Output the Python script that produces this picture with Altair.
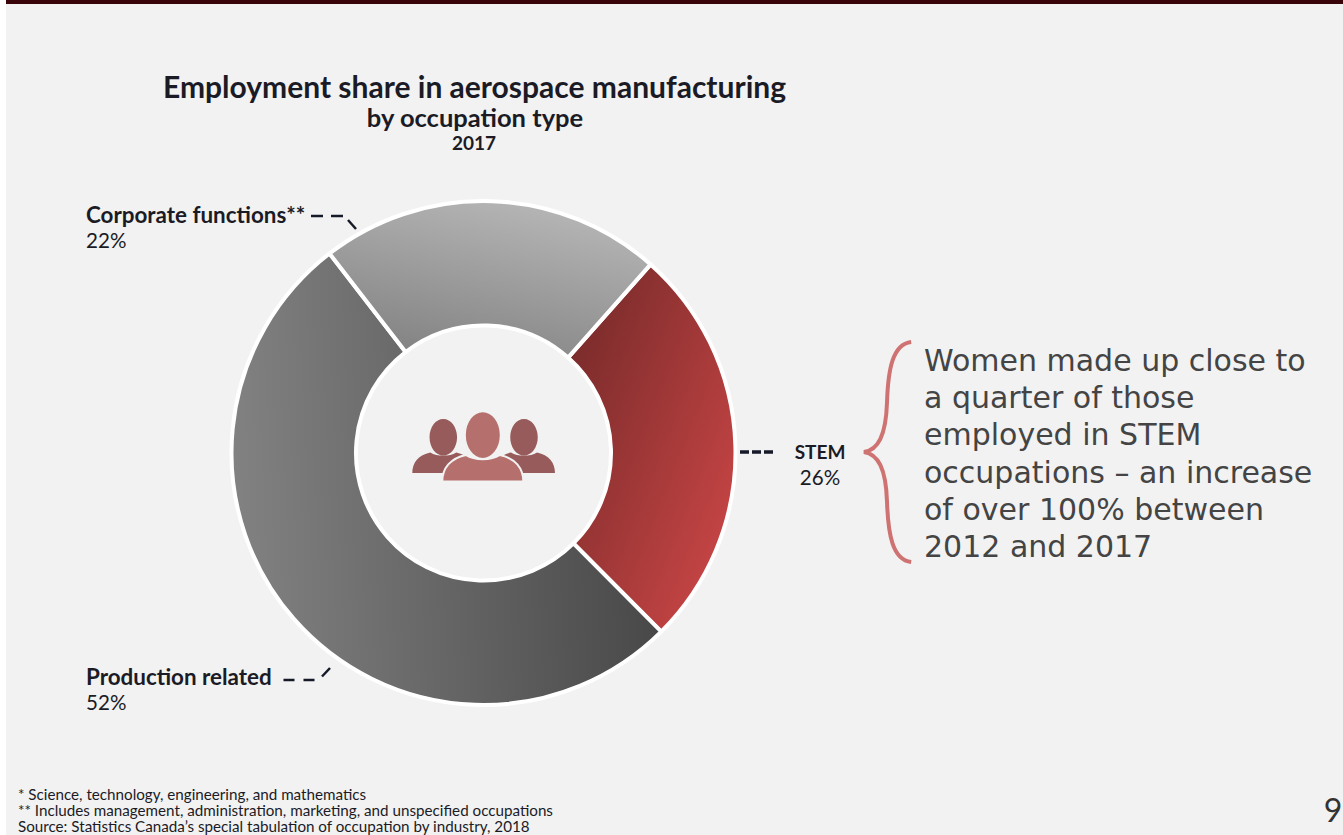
import altair as alt
import pandas as pd

# Occupation shares, 2017
categories = ["STEM", "Production related", "Corporate functions"]
shares = [26, 52, 22]
rank = [0, 1, 2]

title_lines = ["Employment share in aerospace manufacturing", "by occupation type", "2017"]
note_lines = [
    "Women made up close to",
    "a quarter of those",
    "employed in STEM",
    "occupations \u2013 an increase",
    "of over 100% between",
    "2012 and 2017",
]
footnotes = [
    "* Science, technology, engineering, and mathematics",
    "** Includes management, administration, marketing, and unspecified occupations",
    "Source: Statistics Canada\u2019s special tabulation of occupation by industry, 2018",
]

W, H = 1343, 835
FONT = "Lato"
INK = "#1b1b26"
CX, CY = 483.5, 453
START = 0.725
TAU = 6.28319

table = pd.DataFrame({"category": categories, "share": shares, "rank": rank})


def label(text, x, y, size, weight="normal", align="left", color=INK, font=FONT):
    return alt.Chart(table.head(1)).mark_text(
        text=text, font=font, fontSize=size, fontWeight=weight,
        align=align, baseline="middle", color=color,
    ).encode(x=alt.value(x), y=alt.value(y))


def block(x, x2, y, y2, color):
    return alt.Chart(table.head(1)).mark_rect(color=color).encode(
        x=alt.value(x), x2=alt.value(x2), y=alt.value(y), y2=alt.value(y2)
    )


def seg(x, x2, y, y2, width=2.5, color="#161a28", dash=None):
    kwargs = {"strokeDash": dash} if dash else {}
    return alt.Chart(table.head(1)).mark_rule(color=color, strokeWidth=width, **kwargs).encode(
        x=alt.value(x), x2=alt.value(x2), y=alt.value(y), y2=alt.value(y2)
    )


def gradient(c0, c1, x1, y1, x2, y2):
    return alt.LinearGradient(
        gradient="linear",
        stops=[alt.GradientStop(color=c0, offset=0), alt.GradientStop(color=c1, offset=1)],
        x1=x1, y1=y1, x2=x2, y2=y2,
    )


def wedge(category, fill):
    return (
        alt.Chart(table)
        .transform_stack(stack="share", as_=["t0", "t1"], groupby=[], sort=[alt.SortField("rank")])
        .transform_filter(alt.datum.category == category)
        .mark_arc(radius=252, radius2=127.5, fill=fill, stroke="white", strokeWidth=4)
        .encode(
            theta=alt.Theta("t0:Q", scale=alt.Scale(domain=[0, 100], range=[START, START + TAU])),
            theta2="t1:Q",
            x=alt.value(CX),
            y=alt.value(CY),
        )
    )


# Person glyph: head plus shoulders, in symbol units
PERSON = (
    "M-.444,-.27 A.444,.59 0 1 1 .444,-.27 A.444,.59 0 1 1 -.444,-.27 Z "
    "M-1,.877 C-1,.55 -.8,.3 -.42,.22 C-.2,.36 .2,.36 .42,.22 C.8,.3 1,.55 1,.877 Z"
)
BRACE = (
    "M.22,-1 C.05,-.98 .01,-.75 0,-.45 C-.01,-.15 -.08,-.02 -.21,0 "
    "C-.08,.02 -.01,.15 0,.45 C.01,.75 .05,.98 .22,1"
)


def person(x, y, size, color, halo=0):
    return alt.Chart(table.head(1)).mark_point(
        shape=PERSON, size=size, filled=True, fill=color, opacity=1,
        stroke="#f2f2f2", strokeWidth=halo,
    ).encode(x=alt.value(x), y=alt.value(y))


layers = [
    block(6, W, 0, H, "#f2f2f2"),
    block(6, W, 0, 4, "#3a0508"),
    wedge("STEM", gradient("#772a2a", "#c24343", 0.05, 0.1, 0.85, 0.8)),
    wedge("Production related", gradient("#828282", "#474747", 0, 0.55, 1, 0.5)),
    wedge("Corporate functions", gradient("#b8b8b8", "#838383", 0.75, 0, 0.3, 1)),
    person(443.3, 445.7, 3844, "#965b5a"),
    person(524, 445.7, 3844, "#965b5a"),
    person(482.8, 446, 6561, "#b5706d", halo=2),
    # leader lines
    seg(311, 343, 216, 216, dash=[12, 8]),
    seg(348, 356, 220, 229),
    seg(283.5, 315, 680, 680, dash=[11, 9]),
    seg(322, 330, 676.5, 668),
    seg(740, 774, 452, 452, width=3.5, dash=[9, 3]),
    # curly brace beside the note
    alt.Chart(table.head(1)).mark_point(
        shape=BRACE, size=48400, filled=False, stroke="#cf7272", strokeWidth=4, opacity=1
    ).encode(x=alt.value(887), y=alt.value(452)),
    label(title_lines[0], 474.5, 89, 30, "bold", "center"),
    label(title_lines[1], 475, 119, 25.5, "bold", "center"),
    label(title_lines[2], 474, 144, 19, "bold", "center"),
    label(categories[2] + "**", 86, 216, 22.4, "bold"),
    label(f"{shares[2]}%", 86, 242, 20.6),
    label(categories[1], 86, 678, 22.4, "bold"),
    label(f"{shares[1]}%", 86, 704, 20.6),
    label(categories[0], 820, 453, 19, "bold", "center"),
    label(f"{shares[0]}%", 820, 479, 20.6, "normal", "center"),
    label("9", 1333, 812, 32, "normal", "center", "#333333"),
]
for i, line in enumerate(note_lines):
    layers.append(label(line, 924, 362 + i * 37.2, 30, "normal", "left", "#444444", "DejaVu Sans"))
for i, line in enumerate(footnotes):
    layers.append(label(line, 18, 795 + i * 16, 15.2))

chart = (
    alt.layer(*layers)
    .properties(width=W, height=H, padding=0, background="white", autosize=alt.AutoSizeParams(type="none"))
    .configure_view(stroke=None)
)

chart.save("out.html", embed_options={"renderer": "svg", "actions": False})
